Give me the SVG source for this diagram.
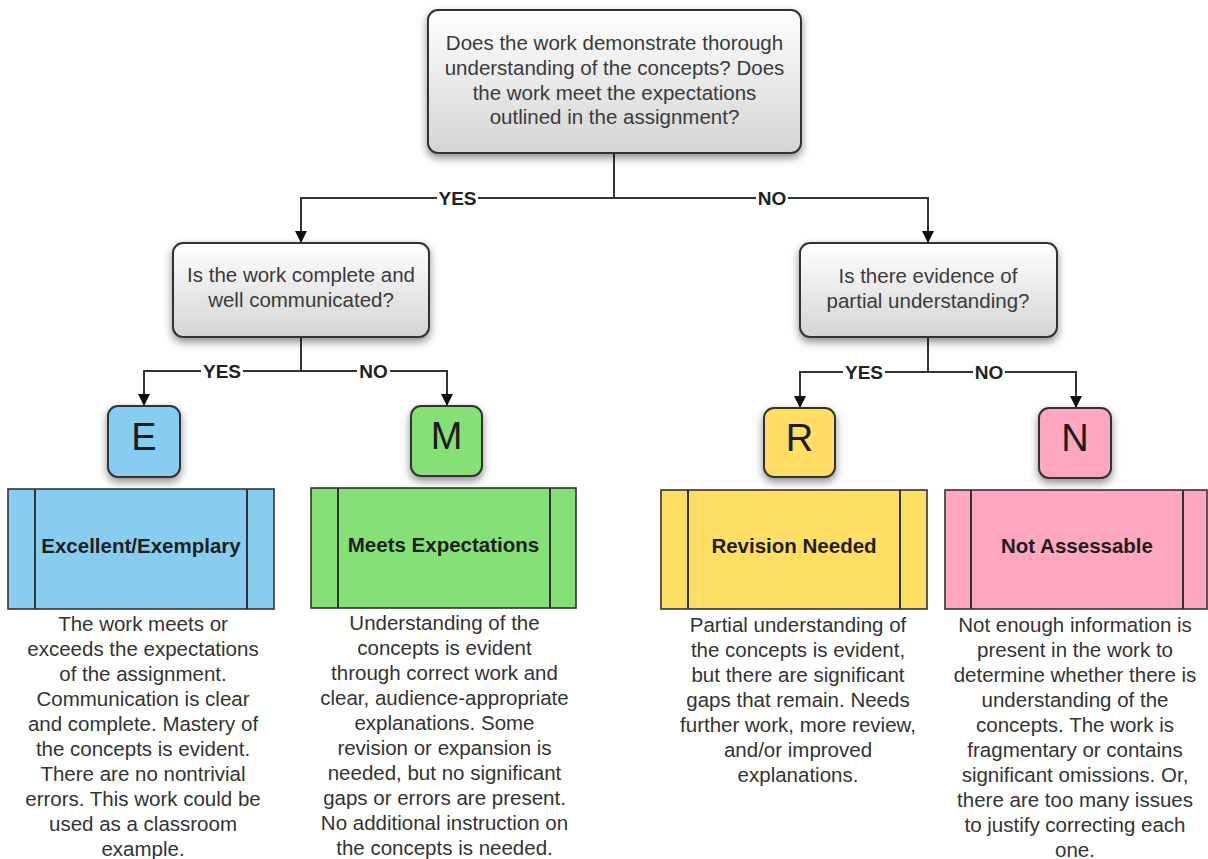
<svg xmlns="http://www.w3.org/2000/svg" width="1208" height="859" viewBox="0 0 1208 859">
<defs>
<linearGradient id="qg" x1="0" y1="0" x2="0" y2="1">
<stop offset="0" stop-color="#ffffff"/>
<stop offset="1" stop-color="#d4d4d4"/>
</linearGradient>
<filter id="sh" x="-20%" y="-20%" width="140%" height="150%">
<feDropShadow dx="0" dy="4" stdDeviation="4" flood-color="#000" flood-opacity="0.45"/>
</filter>
<marker id="ah" markerUnits="userSpaceOnUse" markerWidth="12" markerHeight="14" viewBox="0 0 12 14" refX="12" refY="7" orient="auto">
<path d="M0,1 L12,7 L0,13 z" fill="#111"/>
</marker>
</defs>
<style>
.q{fill:url(#qg);stroke:#333;stroke-width:2;filter:url(#sh)}
.qt{font-family:"Liberation Sans",Arial,sans-serif;font-size:20.5px;fill:#3a3a3a;text-anchor:middle}
.lt{stroke:#333;stroke-width:2;filter:url(#sh)}
.ll{font-family:"Liberation Sans",Arial,sans-serif;font-size:38px;fill:#1c1c1c;text-anchor:middle}
.cat{stroke:#333;stroke-width:1.6}
.cl{stroke:#333;stroke-width:2}
.ct{font-family:"Liberation Sans",Arial,sans-serif;font-size:20.5px;font-weight:bold;fill:#1e1e1e;text-anchor:middle}
.d{font-family:"Liberation Sans",Arial,sans-serif;font-size:20.5px;fill:#333;text-anchor:middle}
.c{fill:none;stroke:#333;stroke-width:2}
.a{marker-end:url(#ah)}
.lb{font-family:"Liberation Sans",Arial,sans-serif;font-size:19px;font-weight:bold;fill:#222;text-anchor:middle}
.bg{fill:#fff}
</style>

<g id="connectors">
<path class="c" d="M614,153 V198"/>
<path class="c a" d="M614,198 H301 V243"/>
<path class="c a" d="M614,198 H928 V243"/>
<path class="c" d="M301,337 V371"/>
<path class="c a" d="M301,371 H144 V406"/>
<path class="c a" d="M301,371 H447 V406"/>
<path class="c" d="M928,337 V372"/>
<path class="c a" d="M928,372 H800 V408"/>
<path class="c a" d="M928,372 H1076 V408"/>
<rect class="bg" x="437" y="189" width="41" height="18"/>
<text class="lb" x="457.5" y="204.5">YES</text>
<rect class="bg" x="756" y="189" width="32" height="18"/>
<text class="lb" x="772" y="204.5">NO</text>
<rect class="bg" x="201" y="362" width="42" height="18"/>
<text class="lb" x="222" y="377.5">YES</text>
<rect class="bg" x="357" y="362" width="33" height="18"/>
<text class="lb" x="373.5" y="377.5">NO</text>
<rect class="bg" x="843" y="363" width="42" height="18"/>
<text class="lb" x="864" y="378.5">YES</text>
<rect class="bg" x="973" y="363" width="32" height="18"/>
<text class="lb" x="989" y="378.5">NO</text>
</g>

<g id="q1">
<rect class="q" x="428" y="10" width="373" height="143" rx="10"/>
<text class="qt" x="614.5" y="50">Does the work demonstrate thorough</text>
<text class="qt" x="614.5" y="75">understanding of the concepts? Does</text>
<text class="qt" x="614.5" y="99.5">the work meet the expectations</text>
<text class="qt" x="614.5" y="124">outlined in the assignment?</text>
</g>

<g id="q2">
<rect class="q" x="173" y="243" width="256" height="94" rx="10"/>
<text class="qt" x="301" y="282">Is the work complete and</text>
<text class="qt" x="301" y="307">well communicated?</text>
</g>

<g id="q3">
<rect class="q" x="800" y="243" width="257" height="94" rx="10"/>
<text class="qt" x="928" y="283">Is there evidence of</text>
<text class="qt" x="928" y="308">partial understanding?</text>
</g>

<g id="E">
<rect class="lt" x="108" y="406" width="72" height="71" rx="10" fill="#87cdf0"/>
<text class="ll" x="144" y="450">E</text>
</g>
<g id="M">
<rect class="lt" x="411" y="406" width="71" height="70" rx="10" fill="#85e075"/>
<text class="ll" x="446.5" y="449">M</text>
</g>
<g id="R">
<rect class="lt" x="764" y="408" width="71" height="69" rx="10" fill="#ffde64"/>
<text class="ll" x="799.5" y="450.5">R</text>
</g>
<g id="N">
<rect class="lt" x="1039" y="408" width="72" height="70" rx="10" fill="#ffa6c0"/>
<text class="ll" x="1075" y="450.5">N</text>
</g>

<g id="excellent">
<rect class="cat" x="8" y="489" width="266" height="120" fill="#87cdf0"/>
<line class="cl" x1="35" y1="489" x2="35" y2="609"/>
<line class="cl" x1="247" y1="489" x2="247" y2="609"/>
<text class="ct" x="141" y="553">Excellent/Exemplary</text>
<text class="d" x="143" y="631">The work meets or</text>
<text class="d" x="143" y="656">exceeds the expectations</text>
<text class="d" x="143" y="681">of the assignment.</text>
<text class="d" x="143" y="706">Communication is clear</text>
<text class="d" x="143" y="731">and complete. Mastery of</text>
<text class="d" x="143" y="756">the concepts is evident.</text>
<text class="d" x="143" y="781">There are no nontrivial</text>
<text class="d" x="143" y="806">errors. This work could be</text>
<text class="d" x="143" y="831">used as a classroom</text>
<text class="d" x="143" y="856">example.</text>
</g>

<g id="meets">
<rect class="cat" x="311" y="488" width="265" height="120" fill="#85e075"/>
<line class="cl" x1="338" y1="488" x2="338" y2="608"/>
<line class="cl" x1="550" y1="488" x2="550" y2="608"/>
<text class="ct" x="443.5" y="552">Meets Expectations</text>
<text class="d" x="444.5" y="630">Understanding of the</text>
<text class="d" x="444.5" y="655">concepts is evident</text>
<text class="d" x="444.5" y="680">through correct work and</text>
<text class="d" x="444.5" y="705">clear, audience-appropriate</text>
<text class="d" x="444.5" y="730">explanations. Some</text>
<text class="d" x="444.5" y="755">revision or expansion is</text>
<text class="d" x="444.5" y="780">needed, but no significant</text>
<text class="d" x="444.5" y="805">gaps or errors are present.</text>
<text class="d" x="444.5" y="830">No additional instruction on</text>
<text class="d" x="444.5" y="855">the concepts is needed.</text>
</g>

<g id="revision">
<rect class="cat" x="661" y="490" width="266" height="119" fill="#ffde64"/>
<line class="cl" x1="688" y1="490" x2="688" y2="609"/>
<line class="cl" x1="900" y1="490" x2="900" y2="609"/>
<text class="ct" x="794" y="553">Revision Needed</text>
<text class="d" x="798" y="632">Partial understanding of</text>
<text class="d" x="798" y="657">the concepts is evident,</text>
<text class="d" x="798" y="682">but there are significant</text>
<text class="d" x="798" y="707">gaps that remain. Needs</text>
<text class="d" x="798" y="732">further work, more review,</text>
<text class="d" x="798" y="757">and/or improved</text>
<text class="d" x="798" y="782">explanations.</text>
</g>

<g id="notassessable">
<rect class="cat" x="945" y="490" width="262" height="119" fill="#ffa6c0"/>
<line class="cl" x1="971" y1="490" x2="971" y2="609"/>
<line class="cl" x1="1183" y1="490" x2="1183" y2="609"/>
<text class="ct" x="1077" y="553">Not Assessable</text>
<text class="d" x="1075" y="632">Not enough information is</text>
<text class="d" x="1075" y="657">present in the work to</text>
<text class="d" x="1075" y="682">determine whether there is</text>
<text class="d" x="1075" y="707">understanding of the</text>
<text class="d" x="1075" y="732">concepts. The work is</text>
<text class="d" x="1075" y="757">fragmentary or contains</text>
<text class="d" x="1075" y="782">significant omissions. Or,</text>
<text class="d" x="1075" y="807">there are too many issues</text>
<text class="d" x="1075" y="832">to justify correcting each</text>
<text class="d" x="1075" y="857">one.</text>
</g>
</svg>
